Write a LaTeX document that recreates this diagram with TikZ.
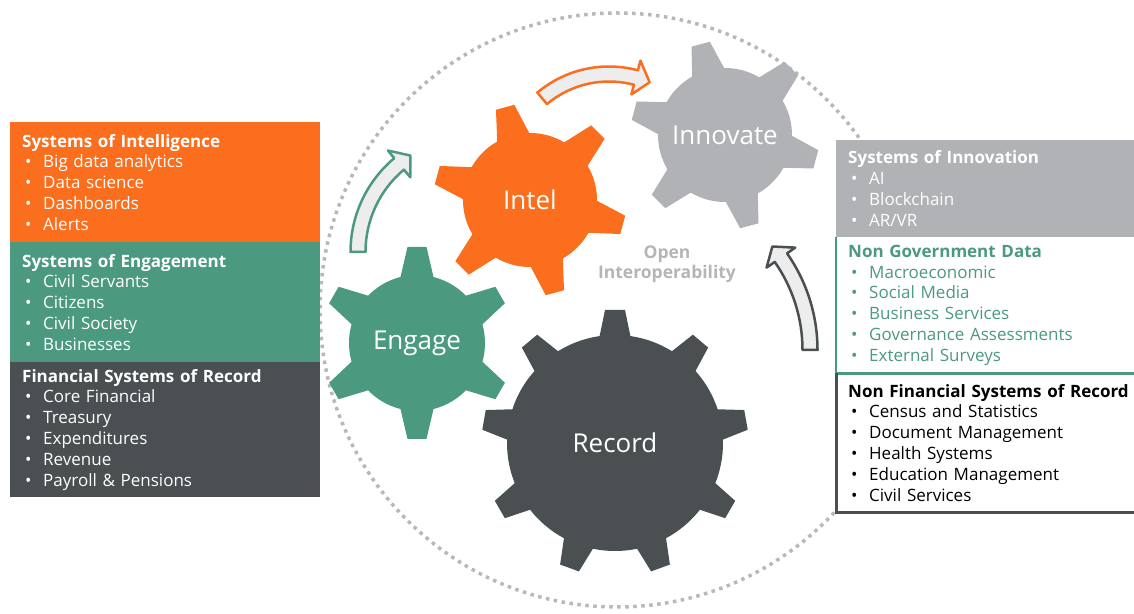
\documentclass[tikz,border=0pt]{standalone}
\usepackage{fontspec}
\setmainfont{Open Sans}
\usepackage{tikz}

\definecolor{intelorange}{HTML}{FA6E1E}
\definecolor{engageteal}{HTML}{4B9A80}
\definecolor{recorddark}{HTML}{4A4F52}
\definecolor{innovgray}{HTML}{B1B2B5}
\definecolor{arrowfill}{HTML}{EDEDED}
\definecolor{dotgray}{HTML}{B8B8BA}
\definecolor{opengray}{HTML}{B4B5B8}

% bullet line inside a list box
\newcommand{\li}[1]{\\\hspace*{3pt}\makebox[18pt][l]{\textbullet}#1}

% colour, centre, body radius, outer radius, teeth, first angle, tip half width, base half width
\newcommand{\drawgear}[8]{%
  \fill[#1] (#2) circle (#3);
  \foreach \k in {1,...,#5}
    \fill[#1, shift={(#2)}, rotate={#6+360/#5*\k}]
      (#3-4,-#8) -- (#4,-#7) -- (#4,#7) -- (#3-4,#8) -- cycle;
}

% colour, centre, radius, start angle, end angle, tip angle
\newcommand{\bentarrow}[6]{%
  \filldraw[draw=#1, fill=arrowfill, line width=2.5pt, line join=round]
    ([shift={(#2)}]#4:#3+7.5) arc[start angle=#4, end angle=#5, radius=#3+7.5]
    -- ([shift={(#2)}]#5:#3+17.5) -- ([shift={(#2)}]#6:#3)
    -- ([shift={(#2)}]#5:#3-17.5) -- ([shift={(#2)}]#5:#3-7.5)
    arc[start angle=#5, end angle=#4, radius=#3-7.5] -- cycle;
}

\tikzset{
  gearlabel/.style={text=white, font=\fontsize{26}{30}\selectfont},
  listbox/.style={anchor=north west, align=left, inner xsep=12pt, inner ysep=0pt,
    font=\fontsize{17}{20.8}\selectfont},
}

\begin{document}
\begin{tikzpicture}[x=1pt, y=1pt]
        \useasboundingbox (0,0) rectangle (1134,613);

        % dotted ring
        \draw[dotgray, line width=3.5pt, dash pattern=on 3.5pt off 4.5pt] (617,303) circle (297);

        % gears
        \drawgear{engageteal}{417,270}{68}{96}{6}{90}{9.5}{17}
        \drawgear{intelorange}{530,413}{67}{96}{6}{105}{9.5}{17}
        \drawgear{innovgray}{725,478}{67}{94}{6}{105}{9.5}{17}
        \drawgear{recorddark}{615,170}{108}{133}{9}{90}{10}{16}

        \node[gearlabel] (engage) at (417,270) {Engage};
        \node[gearlabel] (intel) at (530,413) {Intel};
        \node[gearlabel] (innovate) at (725,478) {Innovate};
        \node[gearlabel] (record) at (615,170) {Record};

        \node[align=center, text=opengray, font=\bfseries\fontsize{17.5}{20}\selectfont] (openint) at (667,349) {Open\\Interoperability};

        % bent arrows
        \bentarrow{engageteal}{473,361}{115}{180}{130}{123}
        \bentarrow{intelorange}{609,435}{104}{130}{75}{67}
        \bentarrow{recorddark}{649,263}{161}{0}{35}{40}

        % left boxes
        \node[listbox, fill=intelorange, text=white, text width=286pt, minimum height=120pt] (intelbox) at (10,491)
          {\textbf{Systems of Intelligence}\li{Big data analytics}\li{Data science}\li{Dashboards}\li{Alerts}};
        \node[listbox, fill=engageteal, text=white, text width=286pt, minimum height=120pt] (engagebox) at (10,371)
          {\textbf{Systems of Engagement}\li{Civil Servants}\li{Citizens}\li{Civil Society}\li{Businesses}};
        \node[listbox, fill=recorddark, text=white, text width=286pt, minimum height=135pt] (recordbox) at (10,251)
          {\textbf{Financial Systems of Record}\li{Core Financial}\li{Treasury}\li{Expenditures}\li{Revenue}\li{Payroll \& Pensions}};

        % right boxes
        \node[listbox, fill=innovgray, text=white, text width=300pt, minimum height=97pt] (innovbox) at (836,473)
          {\textbf{Systems of Innovation}\li{AI}\li{Blockchain}\li{AR/VR}};
        \node[listbox, fill=white, text=engageteal, text width=300pt, minimum height=136pt] (ngdbox) at (836,376)
          {\textbf{Non Government Data}\li{Macroeconomic}\li{Social Media}\li{Business Services}\li{Governance Assessments}\li{External Surveys}};
        \node[listbox, fill=white, text=black, text width=300pt, minimum height=139pt] (nfsrbox) at (836,240)
          {\textbf{Non Financial Systems of Record}\li{Census and Statistics}\li{Document Management}\li{Health Systems}\li{Education Management}\li{Civil Services}};
        \draw[engageteal, line width=2.5pt] (ngdbox.north west) -- (ngdbox.south west) -- (ngdbox.south east);
        \draw[recorddark, line width=3pt] (nfsrbox.north west) -- (nfsrbox.south west) -- (nfsrbox.south east);
\end{tikzpicture}
\end{document}
